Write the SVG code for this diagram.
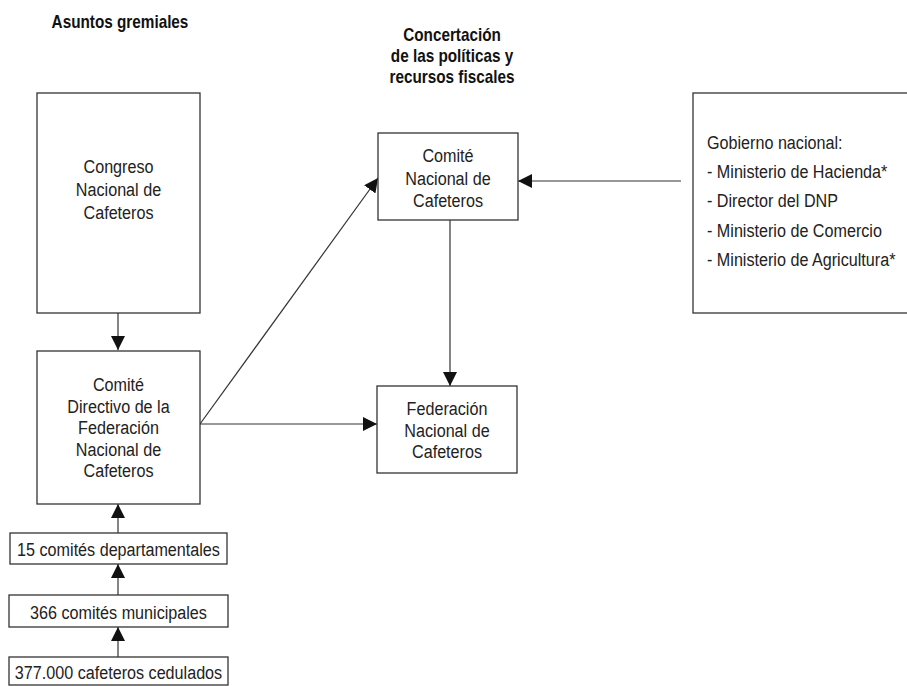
<svg xmlns="http://www.w3.org/2000/svg" width="907" height="686" viewBox="0 0 907 686">
<style>
.bx{fill:#fff;stroke:#333;stroke-width:1.3}
.t{font-family:"Liberation Sans",Arial,sans-serif;font-size:19px;fill:#222}
.c{text-anchor:middle}
.h{font-family:"Liberation Sans",Arial,sans-serif;font-size:18px;font-weight:bold;fill:#111;text-anchor:middle}
.ln{stroke:#333;stroke-width:1.2;fill:none}
</style>
<defs>
<marker id="ah" markerUnits="userSpaceOnUse" markerWidth="14" markerHeight="14" viewBox="0 0 14 14" refX="14" refY="7" orient="auto">
<path d="M0,0 L14,7 L0,14 Z" fill="#111"/>
</marker>
</defs>
<g id="titulo1" transform="translate(120 0) scale(0.85 1)">
<text class="h" x="0" y="28">Asuntos gremiales</text>
</g>
<g id="titulo2" transform="translate(452 0) scale(0.85 1)">
<text class="h" x="0" y="41">Concertación</text>
<text class="h" x="0" y="62">de las políticas y</text>
<text class="h" x="0" y="83">recursos fiscales</text>
</g>
<g id="connectors">
<line class="ln" x1="118" y1="313" x2="118" y2="350" marker-end="url(#ah)"/>
<line class="ln" x1="118" y1="533" x2="118" y2="504" marker-end="url(#ah)"/>
<line class="ln" x1="118" y1="595" x2="118" y2="564" marker-end="url(#ah)"/>
<line class="ln" x1="118" y1="657" x2="118" y2="627" marker-end="url(#ah)"/>
<line class="ln" x1="200" y1="424" x2="377" y2="424" marker-end="url(#ah)"/>
<line class="ln" x1="200" y1="424" x2="378" y2="178" marker-end="url(#ah)"/>
<line class="ln" x1="450" y1="220" x2="450" y2="386" marker-end="url(#ah)"/>
<line class="ln" x1="681" y1="181" x2="518" y2="181" marker-end="url(#ah)"/>
</g>
<g id="congreso">
<rect class="bx" x="37" y="93" width="163" height="220"/>
<g transform="translate(118.5 0) scale(0.85 1)">
<text class="t c" x="0" y="173">Congreso</text>
<text class="t c" x="0" y="196">Nacional de</text>
<text class="t c" x="0" y="219">Cafeteros</text>
</g>
</g>
<g id="comite-directivo">
<rect class="bx" x="37" y="351" width="163" height="153"/>
<g transform="translate(118.5 0) scale(0.85 1)">
<text class="t c" x="0" y="391">Comité</text>
<text class="t c" x="0" y="413">Directivo de la</text>
<text class="t c" x="0" y="434">Federación</text>
<text class="t c" x="0" y="456">Nacional de</text>
<text class="t c" x="0" y="477">Cafeteros</text>
</g>
</g>
<g id="comites-departamentales">
<rect class="bx" x="10" y="533" width="217" height="31"/>
<g transform="translate(118.5 0) scale(0.85 1)">
<text class="t c" x="0" y="556">15 comités departamentales</text>
</g>
</g>
<g id="comites-municipales">
<rect class="bx" x="9" y="595" width="219" height="32"/>
<g transform="translate(118.5 0) scale(0.85 1)">
<text class="t c" x="0" y="619">366 comités municipales</text>
</g>
</g>
<g id="cafeteros-cedulados">
<rect class="bx" x="9" y="657" width="219" height="28"/>
<g transform="translate(118.5 0) scale(0.85 1)">
<text class="t c" x="0" y="679">377.000 cafeteros cedulados</text>
</g>
</g>
<g id="comite-nacional">
<rect class="bx" x="378" y="133" width="140" height="87"/>
<g transform="translate(448 0) scale(0.85 1)">
<text class="t c" x="0" y="162">Comité</text>
<text class="t c" x="0" y="185">Nacional de</text>
<text class="t c" x="0" y="207">Cafeteros</text>
</g>
</g>
<g id="federacion">
<rect class="bx" x="377" y="386" width="140" height="87"/>
<g transform="translate(447 0) scale(0.85 1)">
<text class="t c" x="0" y="415">Federación</text>
<text class="t c" x="0" y="437">Nacional de</text>
<text class="t c" x="0" y="458">Cafeteros</text>
</g>
</g>
<g id="gobierno">
<rect class="bx" x="693" y="93" width="230" height="220"/>
<g transform="translate(707 0) scale(0.85 1)">
<text class="t" x="0" y="149">Gobierno nacional:</text>
<text class="t" x="0" y="178">- Ministerio de Hacienda*</text>
<text class="t" x="0" y="207">- Director del DNP</text>
<text class="t" x="0" y="237">- Ministerio de Comercio</text>
<text class="t" x="0" y="266">- Ministerio de Agricultura*</text>
</g>
</g>
</svg>
